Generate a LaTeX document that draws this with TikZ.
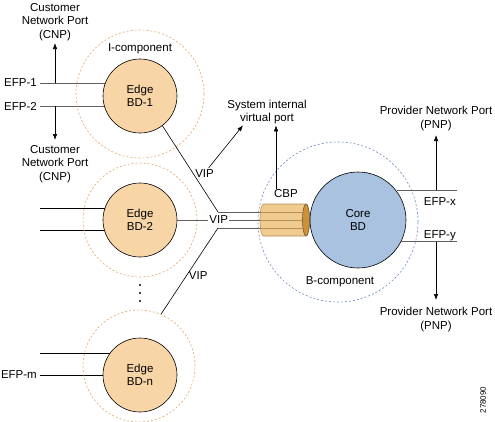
\documentclass[tikz,border=0pt]{standalone}
\usepackage{fontspec}
\setmainfont{Liberation Sans}
\usetikzlibrary{calc,positioning,arrows.meta,backgrounds}

\definecolor{edgefill}{RGB}{248,213,166}
\definecolor{corefill}{RGB}{168,194,224}
\definecolor{ringorange}{RGB}{228,168,108}
\definecolor{ringblue}{RGB}{110,140,190}
\definecolor{cbpfill}{RGB}{240,203,143}
\definecolor{cbprim}{RGB}{205,145,55}
\definecolor{cbpline}{RGB}{185,140,85}
\definecolor{cbpedge}{RGB}{120,90,50}
\definecolor{portgrey}{RGB}{95,95,95}

\begin{document}
\begin{tikzpicture}[x=1pt, y=-1pt, font=\fontsize{11.5}{13.5}\selectfont,
    >={Latex[length=6pt,width=4.5pt]},
    ring/.style={circle, draw, dashed, dash pattern=on 2pt off 2pt, line width=0.6pt},
    bridge/.style={circle, draw, line width=0.6pt, align=center, inner sep=0pt},
    port/.style={draw=portgrey, line width=1pt},
    label/.style={align=center, inner sep=1pt}]
    \useasboundingbox (0,0) rectangle (495,421);

    % I-component rings
    \node[ring, draw=ringorange, minimum size=128pt] (ring1) at (140,94) {};
    \node[ring, draw=ringorange, minimum size=114pt] (ring2) at (140,220) {};
    \node[ring, draw=ringorange, minimum size=112pt] (ringn) at (139,366) {};
    \node[label] at (140,49) {I-component};

    % Edge bridge domains
    \node[bridge, fill=edgefill, minimum size=74pt] (bd1) at (140,96) {Edge\\BD-1};
    \node[bridge, fill=edgefill, minimum size=74pt] (bd2) at (140,220) {Edge\\BD-2};
    \node[bridge, fill=edgefill, minimum size=74pt] (bdn) at (140,375) {Edge\\BD-n};
    \foreach \y in {285,293,301}
        \fill (140,\y) circle (1.2pt);

    % B-component with core bridge domain
    \node[ring, draw=ringblue, minimum size=160pt] (ringb) at (338,222) {};
    \node[bridge, fill=corefill, minimum size=96pt] (core) at (358,220) {Core\\BD};
    \node[label] at (340,282) {B-component};

    % Customer backbone port (cylinder)
    \coordinate (cbpw) at (260,220);
    \coordinate (cbpe) at (306,220);
    \filldraw[fill=cbpfill, draw=cbpline, line width=0.6pt]
        ($(cbpw)+(3.5,-16)$) -- ($(cbpe)+(0,-16)$)
        arc[start angle=-90, end angle=90, x radius=3.5, y radius=16]
        -- ($(cbpw)+(3.5,16)$)
        arc[start angle=90, end angle=270, x radius=3.5, y radius=16] -- cycle;
    \filldraw[fill=cbprim, draw=cbpedge, line width=0.6pt] (cbpe) ellipse[x radius=3.5, y radius=16];
    \node[label] (cbplabel) at (286,194) {CBP};

    % Customer network ports on the left
    \coordinate (efp1) at (40,83);
    \coordinate (efp2) at (40,106);
    \coordinate (efp3) at (40,208);
    \coordinate (efp4) at (40,230);
    \coordinate (efp5) at (40,353);
    \coordinate (efp6) at (40,375);
    \begin{scope}[on background layer]
        \fill[white] (0,0) rectangle (495,421);
        \draw[port] (efp1) -- (efp1 -| bd1.center);
        \draw[port] (efp2) -- (efp2 -| bd1.center);
        \draw[line width=0.6pt] (efp3) -- (efp3 -| bd2.center);
        \draw[line width=0.6pt] (efp4) -- (efp4 -| bd2.center);
        \draw[line width=0.6pt] (efp5) -- (efp5 -| bdn.center);
        \draw[line width=0.6pt] (efp6) -- (efp6 -| bdn.center);
    \end{scope}
    \node[left=2pt of efp1, inner sep=1pt] {EFP-1};
    \node[left=2pt of efp2, inner sep=1pt] {EFP-2};
    \node[left=2pt of efp6, inner sep=1pt] {EFP-m};

    \coordinate (cnp1) at (55,43);
    \coordinate (cnp2) at (55,140);
    \draw[->, line width=0.6pt] (efp1 -| cnp1) -- (cnp1);
    \draw[->, line width=0.6pt] (efp2 -| cnp2) -- (cnp2);
    \node[label, above=1pt of cnp1] {Customer\\Network Port\\(CNP)};
    \node[label, below=4pt of cnp2] {Customer\\Network Port\\(CNP)};

    % Virtual ports into the CBP
    \coordinate (vipa) at (218,212);
    \coordinate (vipb) at (218,228);
    \draw[line width=0.6pt] (bd1.-53) -- node[pos=0.55, right=1pt, inner sep=1pt] (vip1) {VIP} (vipa);
    \draw[line width=0.6pt] (ringn.67) -- node[pos=0.45, right=1pt, inner sep=1pt] {VIP} (vipb);
    \draw[port] (vipa) -- (vipa -| cbpw);
    \draw[port] (vipb) -- (vipb -| cbpw);
    \draw[port] (bd2) -- node[fill=white, inner sep=1pt] {VIP} (bd2 -| cbpw);
    \foreach \c in {vipa,bd2,vipb}
        \draw[draw=cbpline, line width=1pt] (\c -| cbpw) -- ($(\c -| cbpe)+(-1,0)$);

    \node[label] (sysport) at (267,112) {System internal\\virtual port};
    \draw[->, line width=0.6pt] ($(vip1.north)+(4,0)$) -- ($(sysport.south)+(-24,0)$);
    \draw[->, line width=0.6pt] (cbplabel.north -| 276,0) -- ($(sysport.south)+(9,0)$);

    % Provider network ports on the right
    \coordinate (efpx) at (457,190);
    \coordinate (efpy) at (457,242);
    \draw[port] (core.37) -- (core.37 -| efpx);
    \draw[port] (core.-27) -- (core.-27 -| efpy);
    \node[below left=6pt and 0pt of efpx, inner sep=1pt] {EFP-x};
    \node[above left=0pt and 0pt of efpy, inner sep=1pt] {EFP-y};

    \coordinate (pnp1) at (436,135);
    \coordinate (pnp2) at (436,300);
    \draw[->, line width=0.6pt] (efpx -| pnp1) -- (pnp1);
    \draw[->, line width=0.6pt] (efpy -| pnp2) -- (pnp2);
    \node[label, above=3pt of pnp1] {Provider Network Port\\(PNP)};
    \node[label, below=6pt of pnp2] {Provider Network Port\\(PNP)};

    \node[rotate=90, font=\fontsize{8}{9}\selectfont, inner sep=0pt] at (483,400) {278090};
\end{tikzpicture}
\end{document}
